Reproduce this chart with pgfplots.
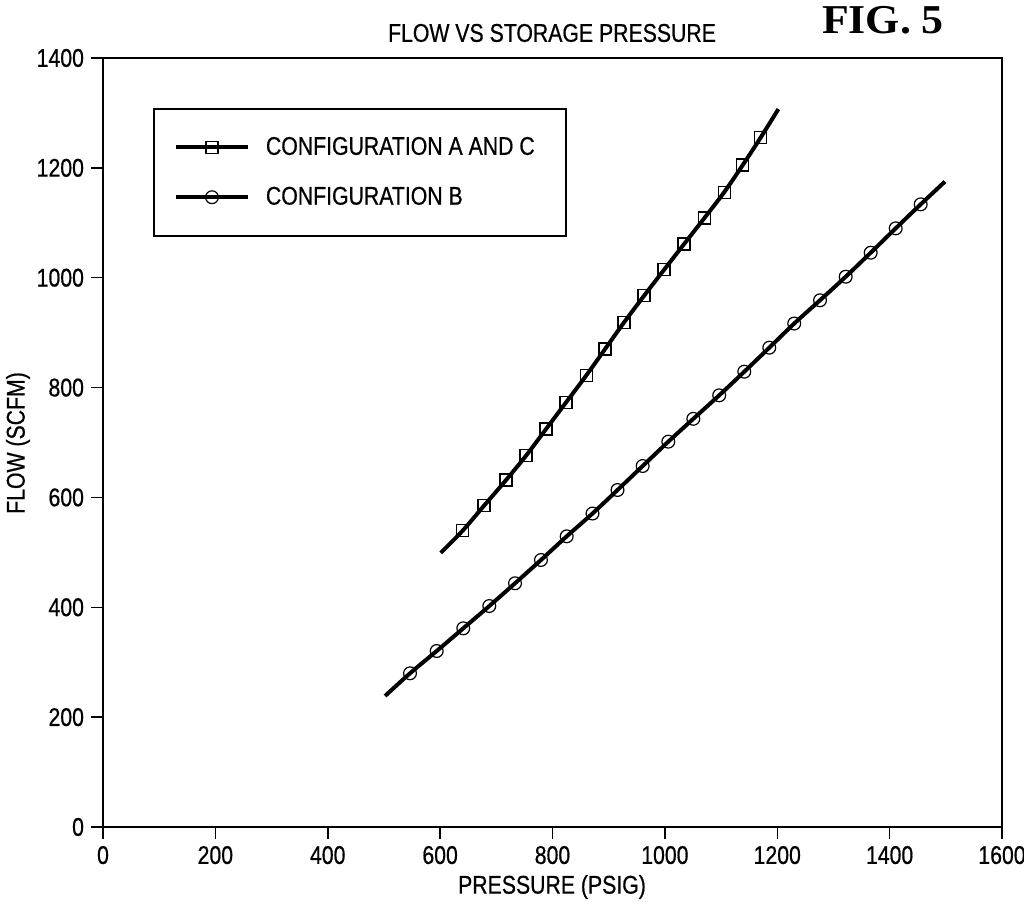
\documentclass[border=0pt]{standalone}
\usepackage{pgfplots}
\pgfplotsset{compat=1.18}
\usepackage{fontspec}
\setmainfont{Liberation Sans}[FakeStretch=0.83, FakeBold=0.6]
\newfontfamily\figfont{Liberation Serif}[FakeStretch=1.07]
\newcommand\lbl{\fontsize{12.8bp}{14.5bp}\selectfont}
\begin{document}
\begin{tikzpicture}
\path[use as bounding box] (-51.5bp,-41.5bp) rectangle (460.5bp,413.5bp);
\begin{axis}[
  at={(0,0)}, anchor=south west,
  scale only axis, width=449.5bp, height=384.5bp,
  xmin=0, xmax=1600, ymin=0, ymax=1400,
  xtick={0,200,...,1600}, ytick={0,200,...,1400},
  tick align=outside, xtick pos=bottom, ytick pos=left,
  major tick length=6bp,
  tick style={black, line width=0.75bp},
  axis line style={line width=0.9bp},
  ticklabel style={font=\lbl},
  /pgf/number format/assume math mode=true,
  /pgf/number format/1000 sep={},
  legend style={at={(0.0556,0.935)}, anchor=north west, draw=black, line width=1bp,
    font=\lbl, inner xsep=10bp, inner ysep=12bp, row sep=10.5bp, cells={anchor=west}},
  legend image code/.code={\draw[#1, mark repeat=2, mark phase=2] plot coordinates {(0bp,0bp)(18bp,0bp)(36bp,0bp)};},
]
\addlegendimage{black, line width=2bp, mark=square, mark size=3bp, mark options={line width=0.6bp, solid}}
\addlegendentry{\hspace{6bp}CONFIGURATION A AND C\rule{3.5bp}{0pt}}
\addlegendimage{black, line width=2bp, mark=o, mark size=3.2bp, mark options={line width=0.6bp, solid}}
\addlegendentry{\hspace{6bp}CONFIGURATION B}
% Configuration A and C: curve
\addplot[black, line width=2bp, smooth, forget plot] coordinates {
(601,499) (640,539.4) (678.1,584.9) (717.3,631.6) (752.9,676) (788.6,724.6)
(824.2,773.1) (859.8,821.6) (893.6,870.2) (927.4,918.7) (963,967.2) (998.6,1014.5)
(1034.2,1061.3) (1070.3,1108.6) (1105.4,1155.4) (1138.6,1205.1) (1170.7,1255.5) (1202,1307)};
\addplot[black, only marks, mark=square, mark size=3bp, mark options={line width=0.6bp}, forget plot] coordinates {
(640,539.4) (678.1,584.9) (717.3,631.6) (752.9,676) (788.6,724.6)
(824.2,773.1) (859.8,821.6) (893.6,870.2) (927.4,918.7) (963,967.2) (998.6,1014.5)
(1034.2,1061.3) (1070.3,1108.6) (1105.4,1155.4) (1138.6,1205.1) (1170.7,1255.5)};
% Configuration B: curve
\addplot[black, line width=2bp, smooth, forget plot] coordinates {
(502,238.5) (546.4,279.8) (593.9,320.4) (641.2,361.7) (687.5,402.3) (733.3,443.7)
(779.5,486.1) (825.3,529.2) (871.2,570.7) (915.7,613.5) (960.5,657.2) (1006.1,701.5)
(1050.6,743.1) (1096.7,785.9) (1141.3,828.9) (1185.8,872.6) (1230.2,916.6) (1276.1,958.9)
(1321.8,1001.8) (1366.3,1045.5) (1410.8,1089.9) (1455.3,1133.6) (1498.5,1175)};
\addplot[black, only marks, mark=o, mark size=3.2bp, mark options={line width=0.6bp}, forget plot] coordinates {
(546.4,279.8) (593.9,320.4) (641.2,361.7) (687.5,402.3) (733.3,443.7)
(779.5,486.1) (825.3,529.2) (871.2,570.7) (915.7,613.5) (960.5,657.2) (1006.1,701.5)
(1050.6,743.1) (1096.7,785.9) (1141.3,828.9) (1185.8,872.6) (1230.2,916.6) (1276.1,958.9)
(1321.8,1001.8) (1366.3,1045.5) (1410.8,1089.9) (1455.3,1133.6)};
\end{axis}
\node[font=\lbl] at (224.5bp,397bp) {FLOW VS STORAGE PRESSURE};
\node[font=\figfont\bfseries\fontsize{20.5bp}{24bp}\selectfont] at (390bp,403.5bp) {FIG. 5};
\node[font=\lbl] at (224.5bp,-30bp) {PRESSURE (PSIG)};
\node[font=\lbl, rotate=90] at (-42.5bp,192bp) {FLOW (SCFM)};
\end{tikzpicture}
\end{document}
